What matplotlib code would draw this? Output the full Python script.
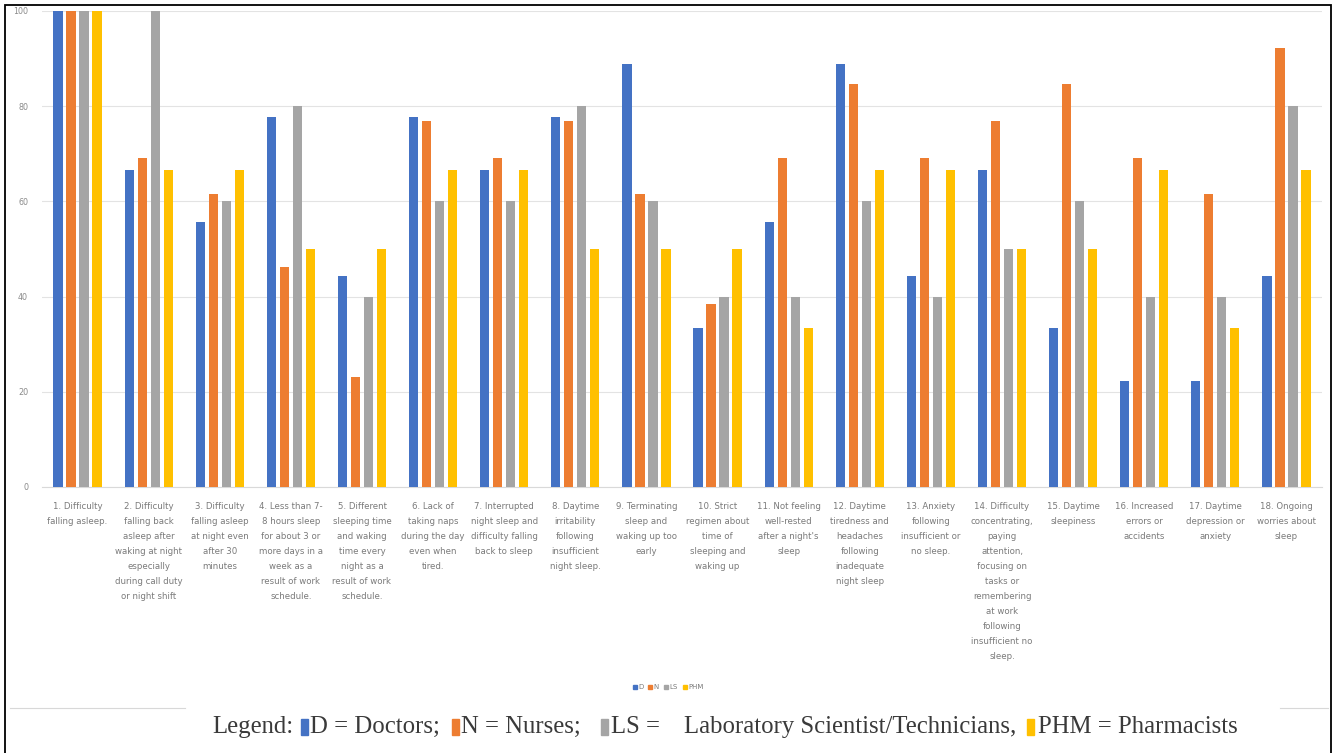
import numpy as np
import matplotlib.pyplot as plt
from matplotlib.patches import Rectangle
from matplotlib.lines import Line2D

# %% Data: percentage of respondents reporting each sleep problem

categories = [
    "1. Difficulty\nfalling asleep.",
    "2. Difficulty\nfalling back\nasleep after\nwaking at night\nespecially\nduring call duty\nor night shift",
    "3. Difficulty\nfalling asleep\nat night even\nafter 30\nminutes",
    "4. Less than 7-\n8 hours sleep\nfor about 3 or\nmore days in a\nweek as a\nresult of work\nschedule.",
    "5. Different\nsleeping time\nand waking\ntime every\nnight as a\nresult of work\nschedule.",
    "6. Lack of\ntaking naps\nduring the day\neven when\ntired.",
    "7. Interrupted\nnight sleep and\ndifficulty falling\nback to sleep",
    "8. Daytime\nirritability\nfollowing\ninsufficient\nnight sleep.",
    "9. Terminating\nsleep and\nwaking up too\nearly",
    "10. Strict\nregimen about\ntime of\nsleeping and\nwaking up",
    "11. Not feeling\nwell-rested\nafter a night's\nsleep",
    "12. Daytime\ntiredness and\nheadaches\nfollowing\ninadequate\nnight sleep",
    "13. Anxiety\nfollowing\ninsufficient or\nno sleep.",
    "14. Difficulty\nconcentrating,\npaying\nattention,\nfocusing on\ntasks or\nremembering\nat work\nfollowing\ninsufficient no\nsleep.",
    "15. Daytime\nsleepiness",
    "16. Increased\nerrors or\naccidents",
    "17. Daytime\ndepression or\nanxiety",
    "18. Ongoing\nworries about\nsleep",
]

doctors = [100, 66.7, 55.6, 77.8, 44.4, 77.8, 66.7, 77.8, 88.9, 33.3,
           55.6, 88.9, 44.4, 66.7, 33.3, 22.2, 22.2, 44.4]
nurses = [100, 69.2, 61.5, 46.2, 23.1, 76.9, 69.2, 76.9, 61.5, 38.5,
          69.2, 84.6, 69.2, 76.9, 84.6, 69.2, 61.5, 92.3]
lab_sci = [100, 100, 60, 80, 40, 60, 60, 80, 60, 40,
           40, 60, 40, 50, 60, 40, 40, 80]
pharm = [100, 66.7, 66.7, 50, 50, 66.7, 66.7, 50, 50, 50,
         33.3, 66.7, 66.7, 50, 50, 66.7, 33.3, 66.7]

series_names = ["D", "N", "LS", "PHM"]
colors = ["#4472C4", "#ED7D31", "#A5A5A5", "#FFC000"]

# %% Plot

W, H = 1336, 753
fig = plt.figure(figsize=(W / 100, H / 100), dpi=100)
ax = fig.add_axes([42 / W, 1 - 487 / H, (1322 - 42) / W, (487 - 11) / H])

x = np.arange(len(categories))
step = 0.183
width = 0.13
for i, (vals, c, name) in enumerate(zip([doctors, nurses, lab_sci, pharm], colors, series_names)):
    ax.bar(x + (i - 1.5) * step, vals, width=width, color=c, label=name, zorder=3)

ax.set_xlim(-0.5, len(categories) - 0.5)
ax.set_ylim(0, 100)
ax.set_yticks(range(0, 101, 20))
ax.grid(axis='y', color='#e3e3e3', linewidth=0.8, zorder=0)
for s in ['top', 'right', 'left']:
    ax.spines[s].set_visible(False)
ax.spines['bottom'].set_color('#d9d9d9')
ax.tick_params(axis='y', length=0, labelsize=5.8, labelcolor='#8a8a8a', pad=10)
ax.set_xticks(x)
ax.set_xticklabels(categories, fontsize=6.2, color='#7a7a7a', linespacing=1.85)
ax.tick_params(axis='x', length=0, pad=11)

# small series legend under the category labels
handles = [Line2D([], [], marker='s', linestyle='', markersize=3.5, color=c) for c in colors]
fig.legend(handles, series_names, loc='center', bbox_to_anchor=(668 / W, 1 - 687 / H),
           ncols=4, fontsize=5, frameon=False, handlelength=0.6, handletextpad=0.2,
           columnspacing=0.7, labelcolor='#7a7a7a')

# outer frame and faint inner frame line
fig.patches.append(Rectangle((5 / W, -0.02), (1331 - 5) / W, 1.02 - 5 / H,
                             transform=fig.transFigure, fill=False,
                             edgecolor='black', linewidth=1.3))
fig.lines.append(Line2D([10 / W, 185 / W], [1 - 708 / H] * 2, transform=fig.transFigure,
                        color='#d8d8d8', linewidth=0.8))
fig.lines.append(Line2D([1280 / W, 1328 / W], [1 - 708 / H] * 2, transform=fig.transFigure,
                        color='#d8d8d8', linewidth=0.8))

# caption line with coloured keys
fig.canvas.draw()
r = fig.canvas.get_renderer()
cap_y = 727
pieces = [
    ("Legend:", 8), (colors[0], 2), ("D = Doctors;", 12),
    (colors[1], 2), ("N = Nurses;", 20), (colors[2], 3), ("LS =", 24),
    ("Laboratory Scientist/Technicians,", 11), (colors[3], 4), ("PHM = Pharmacists", 0),
]
xpos = 212
for item, gap in pieces:
    if item.startswith('#'):
        fig.patches.append(Rectangle((xpos / W, 1 - (cap_y + 8) / H), 7 / W, 16 / H,
                                     transform=fig.transFigure, color=item))
        xpos += 7 + gap
    else:
        t = fig.text(xpos / W, 1 - cap_y / H, item, fontsize=17.8, family='Liberation Serif',
                     color='#3a3a3a', va='center', ha='left')
        xpos += t.get_window_extent(r).width + gap

fig.savefig('out.png', dpi=100)
